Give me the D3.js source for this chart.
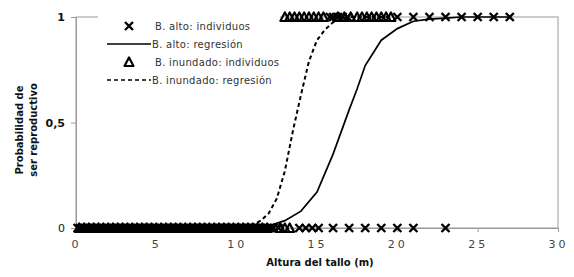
<!DOCTYPE html>
<html><head><meta charset="utf-8">
<script src="https://cdn.jsdelivr.net/npm/d3@7"></script>
<style>
body{margin:0;background:#fff;}
svg{display:block;font-family:"DejaVu Sans",Verdana,sans-serif;}
</style></head>
<body><svg id="c" width="574" height="277"></svg>
<script>
// --- data ---
const xTicks = [0,5,10,15,20,25,30];
const yTicks = [0,0.5,1];
const yTickLabels = ["0","0,5","1"];
// B. alto individuals (x = altura), reproductive = 1 / 0
const altoUno = [15.8,16.0,16.3,16.6,16.9,20,21,22,23,24,25,26,27];
const altoCero = [0.1,0.25,0.4,0.55,0.7,0.85,1.0,1.15,1.3,1.45,1.6,1.75,1.9,2.05,2.2,2.35,2.5,2.65,2.8,2.95,
  3.1,3.25,3.4,3.55,3.7,3.85,4.0,4.15,4.3,4.45,4.6,4.75,4.9,5.05,5.2,5.35,5.5,5.65,5.8,5.95,
  6.1,6.25,6.4,6.55,6.7,6.85,7.0,7.15,7.3,7.45,7.6,7.75,7.9,8.05,8.2,8.35,8.5,8.65,8.8,8.95,
  9.1,9.25,9.4,9.55,9.7,9.85,10.0,10.15,10.3,10.45,10.6,10.75,10.9,11.05,11.2,11.35,11.5,11.65,11.8,11.95,
  12.1,12.3,12.6,13.9,14.3,14.7,15.1,16,17,18,19,20,21,23];
// B. inundado individuals
const inundUno = [13.0,13.3,13.6,13.9,14.2,14.5,14.8,15.1,15.4,16.3,16.7,17.1,17.5,17.8,18.1,18.4,18.7,19.0,19.3,19.6];
const inundCero = [0.2,0.5,0.8,1.1,1.4,1.7,2.0,2.3,2.6,2.9,3.2,3.5,3.8,4.1,4.4,4.7,5.0,5.3,5.6,5.9,
  6.2,6.5,6.8,7.1,7.4,7.7,8.0,8.3,8.6,8.9,9.2,9.5,9.8,10.1,10.4,10.7,11.0,11.3,11.6,11.9,12.7,13.0,13.3];
// regression curves (x, probability)
const altoRegX = [0,5,10,11,12,13,14,15,16,17,17.5,18,19,20,21,22,23,24,25,26,27];
const altoRegP = [0,0,0,0.003,0.01,0.035,0.08,0.17,0.35,0.56,0.66,0.77,0.89,0.945,0.98,0.99,0.995,1,1,1,1];
const inundRegX = [0,5,10,10.5,11,11.5,12,12.5,13,13.5,14,14.5,15,15.5,16,16.5,17,18,19.6];
const inundRegP = [0,0,0,0.005,0.015,0.035,0.07,0.14,0.27,0.46,0.63,0.79,0.89,0.94,0.975,0.99,1,1,1];
const legendLabels = ["B. alto: individuos","B. alto: regresión","B. inundado: individuos","B. inundado: regresión"];

const svg = d3.select("#c");
const x = d3.scaleLinear().domain([0,30]).range([76,558]);
const y = d3.scaleLinear().domain([0,1]).range([228,17]);
const grey = "#9a9a9a";

// plot frame
svg.append("rect").attr("x",x(0)).attr("y",y(1)).attr("width",x(30)-x(0)).attr("height",y(0)-y(1))
  .attr("fill","none").attr("stroke",grey).attr("stroke-width",1);

// axes
const yAxis = d3.axisLeft(y).tickValues(yTicks).tickSize(5).tickPadding(6)
  .tickFormat((d,i)=>yTickLabels[i]);
const gy = svg.append("g").attr("transform",`translate(${x(0)},0)`).call(yAxis);
gy.select(".domain").attr("stroke",grey);
gy.selectAll(".tick line").attr("stroke",grey);
gy.selectAll(".tick text").attr("font-size",11).attr("fill","#111")
  .attr("font-weight",d=>d===0?"normal":"bold").attr("font-family","DejaVu Sans");

const xAxis = d3.axisBottom(x).tickValues(xTicks).tickSize(4).tickPadding(8);
const gx = svg.append("g").attr("transform",`translate(0,${y(0)})`).call(xAxis);
gx.select(".domain").attr("stroke",grey);
gx.selectAll(".tick line").attr("stroke",grey);
gx.selectAll(".tick text").attr("font-size",11).attr("fill","#444")
  .attr("letter-spacing","3px").attr("font-family","DejaVu Sans");

// legend background
svg.append("rect").attr("x",98).attr("y",6).attr("width",182).attr("height",86).attr("fill","#fff");

// regression lines
const line = d3.line().x(d=>x(d[0])).y(d=>y(d[1]));
svg.append("path").datum(altoRegX.map((v,i)=>[v,altoRegP[i]]))
  .attr("d",line).attr("fill","none").attr("stroke","#000").attr("stroke-width",1.7);
svg.append("path").datum(inundRegX.map((v,i)=>[v,inundRegP[i]]))
  .attr("d",line).attr("fill","none").attr("stroke","#000").attr("stroke-width",2).attr("stroke-dasharray","4,3");

// markers
const cross = (g,cx,cy)=>g.append("path")
  .attr("d",`M${cx-4},${cy-4}L${cx+4},${cy+4}M${cx-4},${cy+4}L${cx+4},${cy-4}`)
  .attr("stroke","#000").attr("stroke-width",2.4).attr("fill","none");
const tri = (g,cx,cy)=>g.append("path")
  .attr("d",`M${cx},${cy-4.5}L${cx+4.5},${cy+4}L${cx-4.5},${cy+4}Z`)
  .attr("stroke","#000").attr("stroke-width",2.2).attr("stroke-linejoin","round").attr("fill","none");

const gm = svg.append("g");
inundCero.forEach(v=>tri(gm,x(v),y(0)));
altoCero.forEach(v=>cross(gm,x(v),y(0)));
inundUno.forEach(v=>tri(gm,x(v),y(1)));
altoUno.forEach(v=>cross(gm,x(v),y(1)));

// legend
const lg = svg.append("g");
const ly = [26,44,62,80];
cross(lg,129,ly[0]);
lg.append("line").attr("x1",107).attr("x2",151).attr("y1",ly[1]).attr("y2",ly[1]).attr("stroke","#000").attr("stroke-width",1.7);
tri(lg,129,ly[2]);
lg.append("line").attr("x1",107).attr("x2",151).attr("y1",ly[3]).attr("y2",ly[3]).attr("stroke","#000").attr("stroke-width",1.7).attr("stroke-dasharray","4,3");
lg.selectAll("text.l").data(legendLabels).enter().append("text")
  .attr("x",(d,i)=>i%2===0?155:152).attr("y",(d,i)=>ly[i]+3.5)
  .attr("font-size",10).attr("fill","#333").attr("letter-spacing","0.3px").text(d=>d);

// axis titles
svg.append("text").attr("x",320).attr("y",266).attr("text-anchor","middle")
  .attr("font-size",10).attr("font-weight","bold").attr("fill","#111").text("Altura del tallo (m)");
const yt = svg.append("text").attr("transform","translate(0,130) rotate(-90)")
  .attr("text-anchor","middle").attr("font-size",10).attr("font-weight","bold").attr("fill","#111");
yt.append("tspan").attr("x",0).attr("y",23).text("Probabilidad de");
yt.append("tspan").attr("x",0).attr("y",37).text("ser reproductivo");
</script></body></html>
